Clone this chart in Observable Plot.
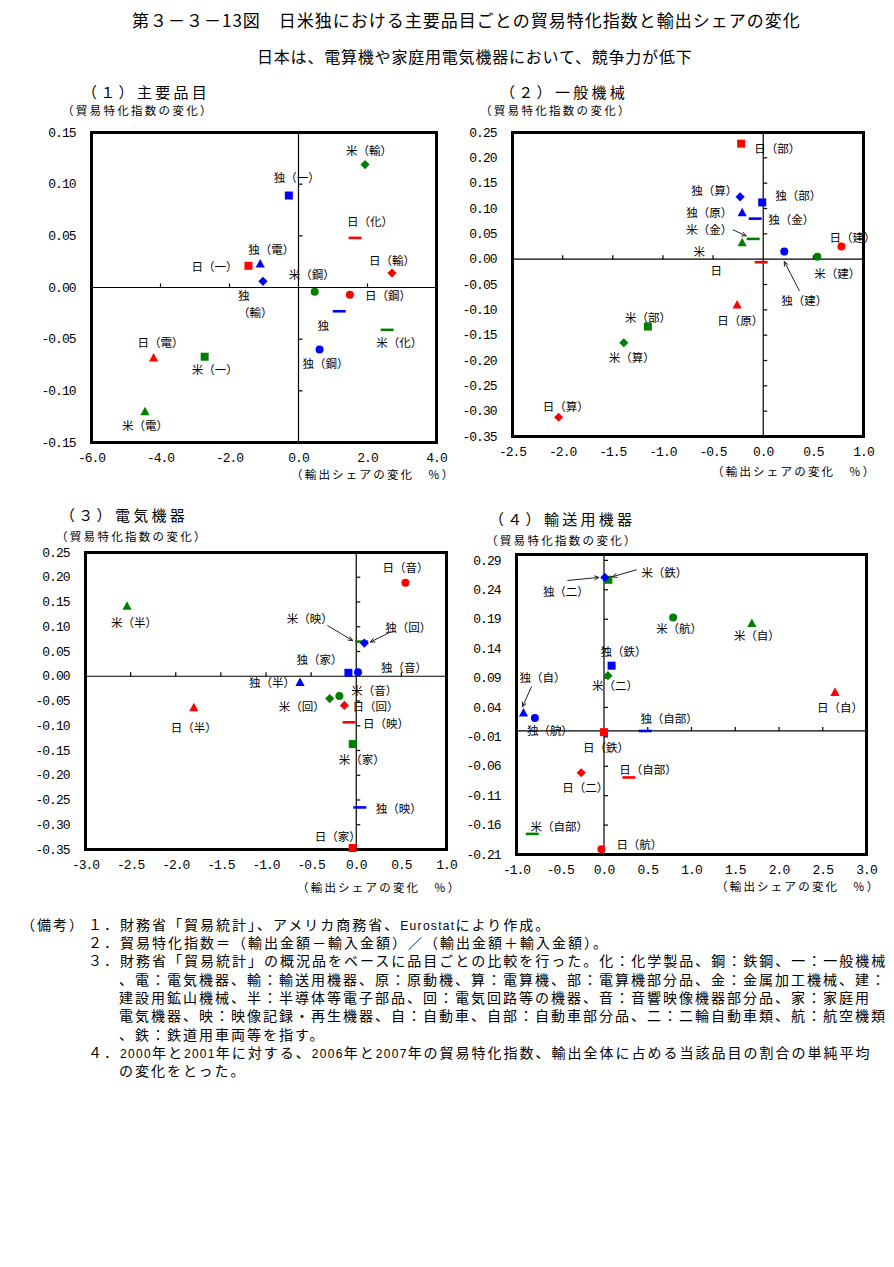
<!DOCTYPE html>
<html><head><meta charset="utf-8">
<script src="https://cdn.jsdelivr.net/npm/d3@7"></script>
<script src="https://cdn.jsdelivr.net/npm/@observablehq/plot@0.6"></script>
<style>
body{margin:0;background:#fff;}
#root{position:relative;width:894px;height:1267px;overflow:hidden;font-family:"Noto Sans CJK JP",sans-serif;color:#000;background:#fff;}
.t{position:absolute;white-space:nowrap;line-height:1;}
.h{letter-spacing:1.3px;font-family:"Liberation Sans",sans-serif;font-size:12px;}
svg.panel{position:absolute;overflow:visible;}
svg.panel g[aria-label^="x-axis"] text, svg.panel g[aria-label^="y-axis"] text{font-family:"Liberation Mono",monospace;font-size:13px;letter-spacing:-1px;}
</style></head><body><div id="root"></div>
<script>
// ---------------- data ----------------
const colorDomain = ["日", "米", "独"];
const colorRange = ["#ff0000", "#008000", "#0000ff"];

// (1) 主要品目
const p1Country = ["日","独","独","独","米","日","日","米","日","独","米","独","日","米","米"];
const p1Item    = ["一","電","輸","一","輸","化","輸","鋼","鋼","化","化","鋼","電","一","電"];
const p1X = [-1.45,-1.11,-1.03,-0.28,1.93,1.64,2.71,0.47,1.49,1.18,2.57,0.61,-4.20,-2.72,-4.45];
const p1Y = [0.021,0.023,0.006,0.089,0.119,0.048,0.014,-0.004,-0.007,-0.023,-0.041,-0.060,-0.068,-0.067,-0.120];
const p1Label = ["日（一）","独（電）","独\n（輸）","独（一）","米（輸）","日（化）","日（輸）","米（鋼）","日（鋼）","独","米（化）","独（鋼）","日（電）","米（一）","米（電）"];
const p1XTicks = [-6, -4, -2, 0, 2, 4];
const p1YTicks = [-0.15, -0.10, -0.05, 0, 0.05, 0.10, 0.15];

// (2) 一般機械
const p2Country = ["日","独","独","独","独","米","米","米","日","独","日","日","米","米","日"];
const p2Item    = ["部","算","部","原","金","金","原","建","建","建","金","原","部","算","算"];
const p2X = [-0.22,-0.23,-0.01,-0.21,-0.08,-0.10,-0.21,0.54,0.78,0.21,-0.02,-0.26,-1.15,-1.39,-2.04];
const p2Y = [0.228,0.123,0.112,0.092,0.080,0.040,0.033,0.005,0.025,0.015,-0.006,-0.090,-0.133,-0.165,-0.312];
const p2Label = ["日（部）","独（算）","独（部）","独（原）","独（金）","米（金）","米","米（建）","日（建）","独（建）","日","日（原）","米（部）","米（算）","日（算）"];
const p2XTicks = [-2.5, -2.0, -1.5, -1.0, -0.5, 0, 0.5, 1.0];
const p2YTicks = [-0.35,-0.30,-0.25,-0.20,-0.15,-0.10,-0.05,0,0.05,0.10,0.15,0.20,0.25];

// (3) 電気機器
const p3Country = ["米","日","日","米","独","独","独","独","米","米","日","日","米","独","日"];
const p3Item    = ["半","半","音","映","回","家","音","半","回","音","回","映","家","映","家"];
const p3X = [-2.54,-1.80,0.545,0.06,0.09,-0.087,0.02,-0.623,-0.294,-0.187,-0.131,-0.08,-0.039,0.04,-0.04];
const p3Y = [0.142,-0.063,0.189,0.070,0.067,0.007,0.008,-0.012,-0.045,-0.040,-0.059,-0.093,-0.137,-0.265,-0.347];
const p3Label = ["米（半）","日（半）","日（音）","米（映）","独（回）","独（家）","独（音）","独（半）","米（回）","米（音）","日（回）","日（映）","米（家）","独（映）","日（家）"];
const p3XTicks = [-3.0, -2.5, -2.0, -1.5, -1.0, -0.5, 0, 0.5, 1.0];
const p3YTicks = [-0.35,-0.30,-0.25,-0.20,-0.15,-0.10,-0.05,0,0.05,0.10,0.15,0.20,0.25];

// (4) 輸送用機器
const p4Country = ["独","米","米","米","独","米","独","独","独","日","日","日","日","米","日"];
const p4Item    = ["二","鉄","航","自","鉄","二","自","航","自部","鉄","自","二","自部","自部","航"];
const p4X = [0.01,0.05,0.79,1.69,0.087,0.045,-0.92,-0.79,0.47,0.0,2.64,-0.26,0.285,-0.82,-0.03];
const p4Y = [0.261,0.257,0.193,0.183,0.111,0.094,0.031,0.022,0.0,-0.002,0.066,-0.071,-0.079,-0.175,-0.201];
const p4Label = ["独（二）","米（鉄）","米（航）","米（自）","独（鉄）","米（二）","独（自）","独（航）","独（自部）","日（鉄）","日（自）","日（二）","日（自部）","米（自部）","日（航）"];
const p4XTicks = [-1.0,-0.5,0,0.5,1.0,1.5,2.0,2.5,3.0];
const p4YTicks = [-0.21,-0.16,-0.11,-0.06,-0.01,0.04,0.09,0.14,0.19,0.24,0.29];

// ---------------- layout (pixels, not data) ----------------
const p1LabelPos = [[-34,0],[11,-15],[-25,7,"start","top"],[8,-19],[4,-15],[15,-17],[0,-13],[-3,-18],[38,0],[-16,13],[12,12],[6,13],[7,-16],[10,12],[0,13]];
const p2LabelPos = [[36,4],[-26,-7],[36,-8],[-33,-1],[36,0],[-44,-10],[-43,8],[20,16],[11,-10],[20,48],[-45,7],[3,15],[0,-10],[8,14],[7,-12]];
const p3LabelPos = [[7,16],[0,19],[0,-16],[-52,-24],[44,-16],[-29,-14],[46,-6],[-28,-1],[-28,7],[35,-6],[31,0],[37,0],[9,15],[39,0],[-15,-12]];
const p4LabelPos = [[-39,13],[56,-8],[6,10],[5,11],[12,-15],[7,9],[19,-36],[15,12],[24,-13],[2,15],[5,15],[4,14],[19,-9],[27,-8],[38,-6]];
const p2Arrows = [{i:5, s:[-20,-9], e:[-7,-3]}, {i:9, s:[15,39], e:[0,10]}];
const p3Arrows = [{i:3, s:[-34,-16], e:[-9,-1]}, {i:4, s:[26,-11], e:[6,-1]}];
const p4Arrows = [{i:0, s:[-37,3], e:[-6,0]}, {i:1, s:[28,-10], e:[4,-3]}, {i:6, s:[8,-26], e:[-1,-6]}];

const SYM = {
  square:   {draw(c){c.moveTo(-4,-4);c.lineTo(4,-4);c.lineTo(4,4);c.lineTo(-4,4);c.closePath();}},
  triangle: {draw(c){c.moveTo(0,-4.8);c.lineTo(4.6,3.8);c.lineTo(-4.6,3.8);c.closePath();}},
  diamond:  {draw(c){c.moveTo(0,-4.6);c.lineTo(4.6,0);c.lineTo(0,4.6);c.lineTo(-4.6,0);c.closePath();}},
  circle:   {draw(c){c.moveTo(4,0);c.arc(0,0,4,0,2*Math.PI);}},
  dash:     {draw(c){c.moveTo(-6.5,-1.3);c.lineTo(6.5,-1.3);c.lineTo(6.5,1.3);c.lineTo(-6.5,1.3);c.closePath();}}
};
const tickUp = {draw(c){c.moveTo(0,0);c.lineTo(0,-4);}};
const tickRight = {draw(c){c.moveTo(0,0);c.lineTo(4,0);}};

const root = document.getElementById("root");

function panel(cfg){
  const ml = 80, mr = 30, mt = 20, mb = 40;
  const w = cfg.R - cfg.L, h = cfg.B - cfg.T;
  const width = w + ml + mr, height = h + mt + mb;
  const xs = d3.scaleLinear(cfg.xDomain, [ml, ml + w]);
  const ys = d3.scaleLinear(cfg.yDomain, [mt + h, mt]);
  const rows = cfg.x.map((x, i) => ({x, y: cfg.y[i], c: cfg.country[i], item: cfg.item[i], label: cfg.label[i], pos: cfg.labelPos[i]}));
  const xZ = cfg.xTicks.filter((d, i) => d !== 0 && i > 0 && i < cfg.xTicks.length - 1);
  const yZ = cfg.yTicks.filter(d => d !== 0 && d > cfg.yDomain[0] && d < cfg.yDomain[1]);
  const marks = [
    Plot.ruleY([0], {stroke: "#000", strokeWidth: 1.2}),
    Plot.ruleX([0], {stroke: "#000", strokeWidth: 1.2}),
    Plot.dot(xZ, {x: d => d, y: () => 0, symbol: tickUp, stroke: "#000", strokeWidth: 1.2, fill: "none"}),
    Plot.dot(yZ, {x: () => 0, y: d => d, symbol: tickRight, stroke: "#000", strokeWidth: 1.2, fill: "none"}),
    Plot.frame({stroke: "#000", strokeWidth: 3})
  ];
  for (const shape of ["dash", "square", "triangle", "circle", "diamond"]) {
    const sub = rows.filter(r => cfg.shapes[r.item] === shape);
    if (sub.length) marks.push(Plot.dot(sub, {x: "x", y: "y", fill: "c", stroke: "none", symbol: SYM[shape]}));
  }
  if (cfg.arrows) {
    const ar = cfg.arrows.map(a => {
      const r = rows[a.i], px = xs(r.x), py = ys(r.y);
      return {x1: xs.invert(px + a.s[0]), y1: ys.invert(py + a.s[1]), x2: xs.invert(px + a.e[0]), y2: ys.invert(py + a.e[1])};
    });
    marks.push(Plot.arrow(ar, {x1: "x1", y1: "y1", x2: "x2", y2: "y2", stroke: "#222", strokeWidth: 1, headLength: 7, headAngle: 50}));
  }
  for (const r of rows) {
    marks.push(Plot.text([r], {x: "x", y: "y", text: "label", dx: r.pos[0], dy: r.pos[1],
      textAnchor: r.pos[2] || "middle", lineAnchor: r.pos[3] || "middle", lineHeight: 1.45, fill: "#000"}));
  }
  const svg = Plot.plot({
    width, height, marginLeft: ml, marginRight: mr, marginTop: mt, marginBottom: mb,
    x: {domain: cfg.xDomain, ticks: cfg.xTicks, tickFormat: d => d.toFixed(1), tickSize: 0, tickPadding: 10, label: null},
    y: {domain: cfg.yDomain, ticks: cfg.yTicks, tickFormat: d => d.toFixed(2), tickSize: 0, tickPadding: 16, label: null},
    color: {domain: colorDomain, range: colorRange},
    style: {fontFamily: "'Noto Sans CJK JP', sans-serif", fontSize: "11.5px", background: "transparent", overflow: "visible", color: "#000"},
    marks
  });
  svg.classList.add("panel");
  svg.style.left = (cfg.L - ml) + "px";
  svg.style.top = (cfg.T - mt) + "px";
  root.append(svg);
}

panel({L: 91, R: 436, T: 132, B: 442, xDomain: [-6, 4], yDomain: [-0.15, 0.15], xTicks: p1XTicks, yTicks: p1YTicks,
  x: p1X, y: p1Y, country: p1Country, item: p1Item, label: p1Label, labelPos: p1LabelPos,
  shapes: {"一": "square", "電": "triangle", "輸": "diamond", "鋼": "circle", "化": "dash"}});
panel({L: 512, R: 863, T: 132, B: 436, xDomain: [-2.5, 1.0], yDomain: [-0.35, 0.25], xTicks: p2XTicks, yTicks: p2YTicks,
  x: p2X, y: p2Y, country: p2Country, item: p2Item, label: p2Label, labelPos: p2LabelPos, arrows: p2Arrows,
  shapes: {"部": "square", "原": "triangle", "算": "diamond", "建": "circle", "金": "dash"}});
panel({L: 85, R: 446, T: 552, B: 849, xDomain: [-3.0, 1.0], yDomain: [-0.35, 0.25], xTicks: p3XTicks, yTicks: p3YTicks,
  x: p3X, y: p3Y, country: p3Country, item: p3Item, label: p3Label, labelPos: p3LabelPos, arrows: p3Arrows,
  shapes: {"家": "square", "半": "triangle", "回": "diamond", "音": "circle", "映": "dash"}});
panel({L: 516, R: 866, T: 554, B: 854, xDomain: [-1.0, 3.0], yDomain: [-0.21, 0.30], xTicks: p4XTicks, yTicks: p4YTicks,
  x: p4X, y: p4Y, country: p4Country, item: p4Item, label: p4Label, labelPos: p4LabelPos, arrows: p4Arrows,
  shapes: {"鉄": "square", "自": "triangle", "二": "diamond", "航": "circle", "自部": "dash"}});

// ---------------- texts ----------------
function wrapHalf(s){ return s.replace(/[A-Za-z0-9]+/g, m => `<span class="h">${m}</span>`); }
function addText(txt, left, cy, size, spacing, half){
  const d = document.createElement("div");
  d.className = "t";
  d.style.left = left + "px";
  d.style.top = (cy - size * 0.55) + "px";
  d.style.fontSize = size + "px";
  d.style.letterSpacing = spacing + "px";
  d.innerHTML = half ? wrapHalf(txt) : txt;
  root.append(d);
}
addText("第３－３－13図　日米独における主要品目ごとの貿易特化指数と輸出シェアの変化", 132, 20, 17, 1.0);
addText("日本は、電算機や家庭用電気機器において、競争力が低下", 257, 57, 16, 0.8);

const panelTitles = ["（１）主要品目", "（２）一般機械", "（３）電気機器", "（４）輸送用機器"];
const panelTitlePos = [[82, 92], [500, 92], [60, 515], [489, 519]];
const yTitle = "（貿易特化指数の変化）";
const yTitlePos = [[62, 111.5], [480, 111.5], [56, 537], [486, 541]];
const xTitle = "（輸出シェアの変化　％）";
const xTitlePos = [[291, 475], [712, 472], [297, 888], [716, 887]];
panelTitles.forEach((t, i) => addText(t, panelTitlePos[i][0], panelTitlePos[i][1], 15, 3.3));
yTitlePos.forEach(p => addText(yTitle, p[0], p[1], 11.5, 2.3));
xTitlePos.forEach(p => addText(xTitle, p[0], p[1], 11.5, 2.2));

const notes = [
  [88, "１．財務省「貿易統計」、アメリカ商務省、Eurostatにより作成。"],
  [88, "２．貿易特化指数＝（輸出金額－輸入金額）／（輸出金額＋輸入金額）。"],
  [88, "３．財務省「貿易統計」の概況品をベースに品目ごとの比較を行った。化：化学製品、鋼：鉄鋼、一：一般機械"],
  [119, "、電：電気機器、輸：輸送用機器、原：原動機、算：電算機、部：電算機部分品、金：金属加工機械、建："],
  [119, "建設用鉱山機械、半：半導体等電子部品、回：電気回路等の機器、音：音響映像機器部分品、家：家庭用"],
  [119, "電気機器、映：映像記録・再生機器、自：自動車、自部：自動車部分品、二：二輪自動車類、航：航空機類"],
  [119, "、鉄：鉄道用車両等を指す。"],
  [88, "４．2000年と2001年に対する、2006年と2007年の貿易特化指数、輸出全体に占める当該品目の割合の単純平均"],
  [119, "の変化をとった。"]
];
addText("（備考）", 21, 924.5, 14, 2.0, true);
notes.forEach((n, i) => addText(n[1], n[0], 924.5 + 18.3 * i, 14, 2.0, true));
</script></body></html>
